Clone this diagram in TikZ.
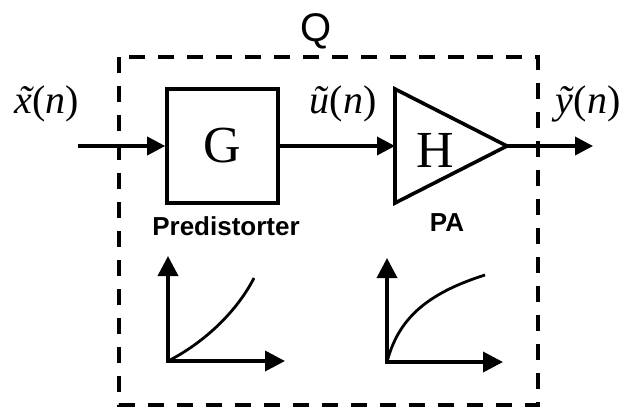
\documentclass[tikz,border=0pt]{standalone}
\usepackage{fontspec}
\setmainfont{Liberation Serif}
\setsansfont{Liberation Sans}
\usetikzlibrary{arrows.meta}
\newcommand{\tildex}{{\ooalign{\textit{x}\cr\hidewidth\kern0.12em\textit{\char"02DC}\hidewidth\cr}}}

\begin{document}
\begin{tikzpicture}[x=0.5pt,y=-0.5pt,
    block/.style={draw, line width=1.8pt, minimum width=55.5pt, minimum height=57pt, inner sep=0pt, font=\fontsize{26}{30}\selectfont},
    sig/.style={font=\fontsize{20}{24}\selectfont},
    lbl/.style={font=\sffamily\bfseries\fontsize{13}{15}\selectfont},
    conn/.style={line width=1.8pt, -{Triangle[length=9pt,width=9pt]}},
    axline/.style={line width=1.8pt, {Triangle[length=10pt,width=10pt]}-{Triangle[length=10pt,width=10pt]}},
    trend/.style={line width=1.4pt},
    qframe/.style={line width=2pt, dash pattern=on 8pt off 6.5pt}
]
\useasboundingbox (0,0) rectangle (625,407);

% outer system Q
\draw[qframe] (119,57) rectangle (538,405);
\node[font=\sffamily\fontsize{20}{24}\selectfont] (q) at (316,31) {Q};

% predistorter and PA
\node[block] (g) at (222.5,146) {G};
\coordinate (ta) at (395,89);
\coordinate (tb) at (395,203);
\coordinate (tip) at (507,146);
\coordinate (tin) at (395,146);
\draw[line width=1.8pt, line join=miter] (ta) -- (tip) -- (tb) -- cycle;
\node[font=\fontsize{26}{30}\selectfont] (h) at (435,150) {H};

% signals
\coordinate (xin) at (78,146);
\coordinate (yout) at (593,146);
\draw[conn] (xin) -- (g.west);
\draw[conn] (g.east) -- (tin);
\draw[conn] (tip) -- (yout);
\node[sig] (xs) at (47,104) {\tildex(\textit{n})};
\node[sig] (us) at (343,104) {\textit{ũ}(\textit{n})};
\node[sig] (ys) at (588,104) {\textit{ỹ}(\textit{n})};

\node[lbl] (pd) at (226,226) {Predistorter};
\node[lbl] (pa) at (447,223) {PA};

% characteristics
\coordinate (o1) at (168,361);
\coordinate (o1y) at (168,256);
\coordinate (o1x) at (285,361);
\draw[axline] (o1y) -- (o1) -- (o1x);
\draw[trend] (o1) .. controls (200,345) and (235,315) .. (254,278);

\coordinate (o2) at (387,362);
\coordinate (o2y) at (387,258);
\coordinate (o2x) at (503,362);
\draw[axline] (o2y) -- (o2) -- (o2x);
\draw[trend] (o2) .. controls (398,320) and (425,294) .. (485,275);
\end{tikzpicture}
\end{document}
